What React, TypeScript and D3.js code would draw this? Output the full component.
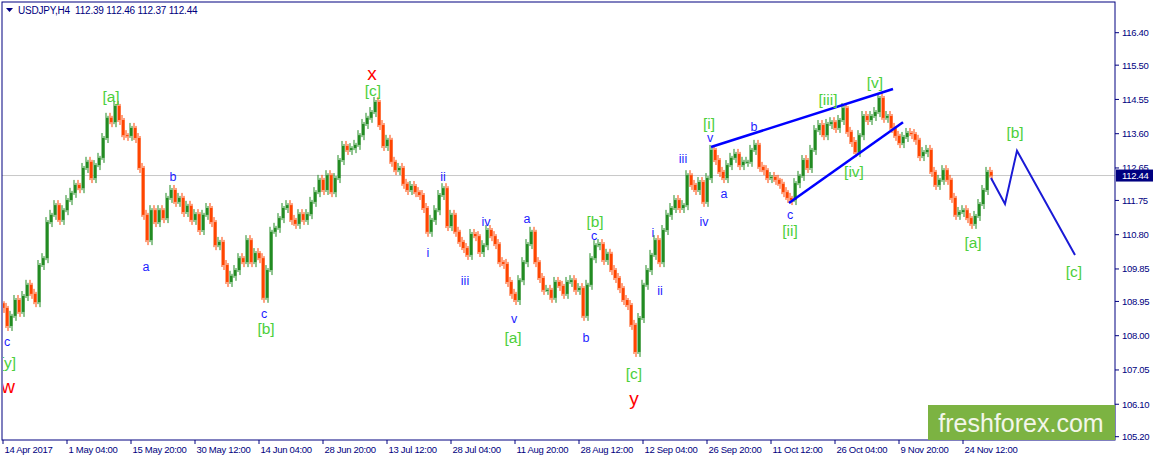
import React from 'react';
import * as d3 from 'd3';

const W = 1155;
const H = 461;

// H4 closes, one sample per 4 bars
const closes = [
  108.77, 108.27, 108.55, 108.99, 108.66, 109.10, 109.41, 109.16, 108.93, 109.96,
  110.15, 111.15, 111.35, 111.62, 111.21, 111.48, 111.76, 111.96, 112.18, 112.09,
  112.65, 112.82, 112.37, 112.73, 112.93, 113.48, 114.04, 113.92, 114.37, 113.98,
  113.56, 113.54, 113.76, 113.48, 112.65, 111.35, 110.65, 111.48, 111.15, 111.48,
  111.26, 111.82, 112.04, 111.71, 111.82, 111.43, 111.60, 111.21, 111.37, 110.93,
  111.35, 111.54, 111.15, 110.51, 110.60, 109.96, 109.49, 109.66, 109.82, 110.15,
  110.04, 110.65, 110.04, 110.29, 110.15, 109.05, 109.82, 110.88, 110.99, 111.26,
  111.54, 111.62, 111.21, 111.10, 111.37, 111.21, 111.37, 111.71, 111.98, 112.32,
  112.04, 112.45, 111.98, 112.37, 112.87, 113.26, 113.15, 113.20, 113.29, 113.56,
  113.87, 114.04, 114.20, 114.48, 113.84, 113.26, 113.43, 112.82, 112.59, 112.65,
  112.21, 112.04, 112.15, 111.98, 111.90, 111.54, 110.88, 111.21, 111.48, 111.90,
  112.09, 111.04, 111.35, 110.88, 110.60, 110.43, 110.24, 110.82, 110.76, 110.32,
  110.51, 110.93, 110.76, 110.54, 110.04, 109.99, 109.49, 109.16, 108.99, 109.54,
  110.04, 110.54, 110.88, 110.04, 109.60, 109.27, 109.27, 109.05, 109.49, 109.38,
  109.16, 109.49, 109.54, 109.27, 109.32, 108.55, 109.41, 110.15, 110.51, 110.54,
  110.10, 110.27, 109.82, 109.60, 109.32, 108.99, 108.85, 108.30, 107.55, 108.49,
  109.41, 109.82, 110.24, 110.65, 110.04, 110.93, 111.35, 111.54, 111.76, 111.54,
  111.62, 112.45, 112.18, 112.04, 112.26, 111.71, 112.37, 113.15, 112.87, 112.54,
  112.37, 112.73, 112.93, 113.04, 112.73, 112.82, 112.82, 113.15, 113.29, 112.68,
  112.59, 112.37, 112.40, 112.32, 112.21, 111.98, 111.82, 111.76, 112.23, 112.43,
  112.87, 112.65, 113.15, 113.70, 113.84, 113.56, 113.87, 113.92, 113.76, 113.98,
  114.31, 113.65, 113.37, 113.09, 113.56, 114.09, 113.98, 114.09, 114.20, 114.59,
  114.04, 114.09, 113.76, 113.54, 113.34, 113.51, 113.62, 113.59, 113.43, 112.98,
  113.09, 113.15, 112.54, 112.18, 112.32, 112.59, 112.32, 111.82, 111.35, 111.43,
  111.48, 111.26, 111.10, 111.32, 111.65, 112.04, 112.54, 112.44,
];

const timeLabels = [
  '14 Apr 2017', '1 May 04:00', '15 May 20:00', '30 May 12:00', '14 Jun 04:00',
  '28 Jun 20:00', '13 Jul 12:00', '28 Jul 04:00', '11 Aug 20:00', '28 Aug 12:00',
  '12 Sep 04:00', '26 Sep 20:00', '11 Oct 12:00', '26 Oct 04:00', '9 Nov 20:00',
  '24 Nov 12:00',
];
const timeLabelStep = 16; // samples between time labels

const priceTicks = [
  116.40, 115.50, 114.55, 113.60, 112.65, 111.75, 110.80, 109.85, 108.95, 108.00,
  107.05, 106.10, 105.20,
];

const lastPrice = 112.44;
const title = 'USDJPY,H4  112.39 112.46 112.37 112.44';

// wave labels: text, sample index, price, style
const waveLabels: [string, number, number, string][] = [
  ['c', 1, 107.83, 'minor'],
  ['[y]', 1.25, 107.25, 'major'],
  ['w', 1.25, 106.60, 'prim'],
  ['[a]', 27, 114.62, 'major'],
  ['a', 35.75, 109.9, 'minor'],
  ['b', 42.5, 112.4, 'minor'],
  ['c', 65.25, 108.6, 'minor'],
  ['[b]', 65.75, 108.2, 'major'],
  ['x', 92.25, 115.28, 'prim'],
  ['[c]', 92.5, 114.81, 'major'],
  ['i', 106.25, 110.29, 'minor'],
  ['ii', 110, 112.4, 'minor'],
  ['iii', 115.5, 109.52, 'minor'],
  ['iv', 120.75, 111.15, 'minor'],
  ['v', 127.75, 108.46, 'minor'],
  ['[a]', 127.5, 107.96, 'major'],
  ['a', 131, 111.24, 'minor'],
  ['b', 145.75, 107.94, 'minor'],
  ['c', 147.75, 110.76, 'minor'],
  ['[b]', 148, 111.17, 'major'],
  ['[c]', 157.75, 106.94, 'major'],
  ['y', 157.75, 106.27, 'prim'],
  ['i', 162.5, 110.85, 'minor'],
  ['ii', 164.25, 109.24, 'minor'],
  ['iii', 170, 112.9, 'minor'],
  ['iv', 175.25, 111.15, 'minor'],
  ['v', 176.75, 113.48, 'minor'],
  ['[i]', 176.5, 113.87, 'major'],
  ['a', 180.25, 111.93, 'minor'],
  ['b', 187.75, 113.79, 'minor'],
  ['c', 196.75, 111.35, 'minor'],
  ['[ii]', 196.75, 110.93, 'major'],
  ['[iii]', 206.25, 114.56, 'major'],
  ['[iv]', 212.75, 112.54, 'major'],
  ['[v]', 218, 115.03, 'major'],
  ['[a]', 242.5, 110.57, 'major'],
  ['[b]', 253, 113.62, 'major'],
  ['[c]', 267.75, 109.79, 'major'],
];

// wedge and forecast paths: [sample index, price]
const wedgeUpper: [number, number][] = [[177, 113.23], [222.5, 114.84]];
const wedgeLower: [number, number][] = [[196.5, 111.68], [225, 113.92]];
const forecast: [number, number][] = [[247, 112.37], [250.5, 111.65], [253.5, 113.13], [268, 110.24]];

const UP = '#228b22';
const DOWN = '#ff4500';
const NAVY = '#000080';

const labelStyle: Record<string, { fill: string; size: number }> = {
  minor: { fill: '#1c1cff', size: 12.5 },
  major: { fill: '#4ccf3c', size: 15.5 },
  prim: { fill: '#ff0000', size: 19 },
};

const App: React.FC = () => {
  const left = 2, top = 2, right = 1115, bottom = 440;

  const x = d3.scaleLinear().domain([0, 247]).range([3, 991]);
  const y = d3.scaleLinear().domain([105.2, 116.4]).range([436.7, 32.7]);
  const line = d3.line<[number, number]>().x(d => x(d[0])).y(d => y(d[1]));

  const font = "'Liberation Sans', Arial, sans-serif";

  return (
    <svg width={W} height={H} style={{ position: 'absolute', left: 0, top: 0, background: '#fff' }}>
      <defs>
        <clipPath id="plot">
          <rect x={left + 1} y={top + 1} width={right - left - 1} height={bottom - top - 1} />
        </clipPath>
      </defs>

      {/* current price line */}
      <line x1={left} x2={right} y1={y(lastPrice)} y2={y(lastPrice)} stroke="#c8c8c8" strokeWidth={1} />

      <g clipPath="url(#plot)">
        {closes.map((c, i) => {
          const o = i > 0 ? closes[i - 1] : 108.9;
          const up = c >= o;
          const yTop = y(Math.max(o, c));
          const yBot = y(Math.min(o, c));
          const cx = x(i);
          const col = up ? UP : DOWN;
          return (
            <g key={i}>
              <line x1={cx - 1} x2={cx - 1} y1={yTop - 5} y2={yBot + 2} stroke={col} strokeWidth={1} />
              <line x1={cx + 1} x2={cx + 1} y1={yTop - 2} y2={yBot + 5} stroke={col} strokeWidth={1} />
              <rect x={cx - 1} y={yTop} width={2.5} height={Math.max(1, yBot - yTop)} fill={col} />
            </g>
          );
        })}

        <path d={line(wedgeUpper) ?? ''} stroke="#0000ff" strokeWidth={2.5} fill="none" />
        <path d={line(wedgeLower) ?? ''} stroke="#0000ff" strokeWidth={2.5} fill="none" />
        <path d={line(forecast) ?? ''} stroke="#1a1ad6" strokeWidth={2} fill="none" />

        {waveLabels.map(([t, i, p, k], n) => {
          const s = labelStyle[k];
          return (
            <text key={n} x={x(i)} y={y(p)} fill={s.fill} fontSize={s.size} fontFamily={font}
              textAnchor="middle" dominantBaseline="central">{t}</text>
          );
        })}
      </g>

      {/* frame */}
      <rect x={left} y={top} width={right - left} height={bottom - top} fill="none" stroke={NAVY} strokeWidth={1} />

      {/* title */}
      <path d="M6,8 L13,8 L9.5,12 Z" fill={NAVY} />
      <text x={18} y={14} fontSize={10} fontFamily={font} fill={NAVY} letterSpacing={-0.2}
        style={{ whiteSpace: 'pre' }}>{title}</text>

      {/* price axis */}
      {priceTicks.map(p => (
        <g key={p}>
          <line x1={right} x2={right + 4} y1={y(p)} y2={y(p)} stroke={NAVY} />
          <text x={1122} y={y(p)} dominantBaseline="central" fontSize={9.5} fontFamily={font}
            fill={NAVY} letterSpacing={-0.3}>{p.toFixed(2)}</text>
        </g>
      ))}
      <rect x={right + 1} y={y(lastPrice) - 6} width={37} height={12} fill={NAVY} />
      <text x={1122} y={y(lastPrice)} dominantBaseline="central" fontSize={9.5} fontFamily={font}
        fill="#fff" letterSpacing={-0.3}>{lastPrice.toFixed(2)}</text>

      {/* time axis */}
      {timeLabels.map((t, n) => {
        const tx = x(n * timeLabelStep);
        return (
          <g key={t}>
            <line x1={tx} x2={tx} y1={bottom} y2={bottom + 4} stroke={NAVY} />
            <text x={tx + 1.5} y={453} fontSize={9.5} fontFamily={font} fill={NAVY}
              letterSpacing={-0.3}>{t}</text>
          </g>
        );
      })}

      {/* watermark */}
      <rect x={928} y={405} width={right - 928} height={bottom - 405} fill="#7cb342" />
      <text x={1021} y={423} textAnchor="middle" dominantBaseline="central" fontSize={25}
        fontFamily={font} fill="#f3f6ea">freshforex.com</text>
    </svg>
  );
};

export default App;
